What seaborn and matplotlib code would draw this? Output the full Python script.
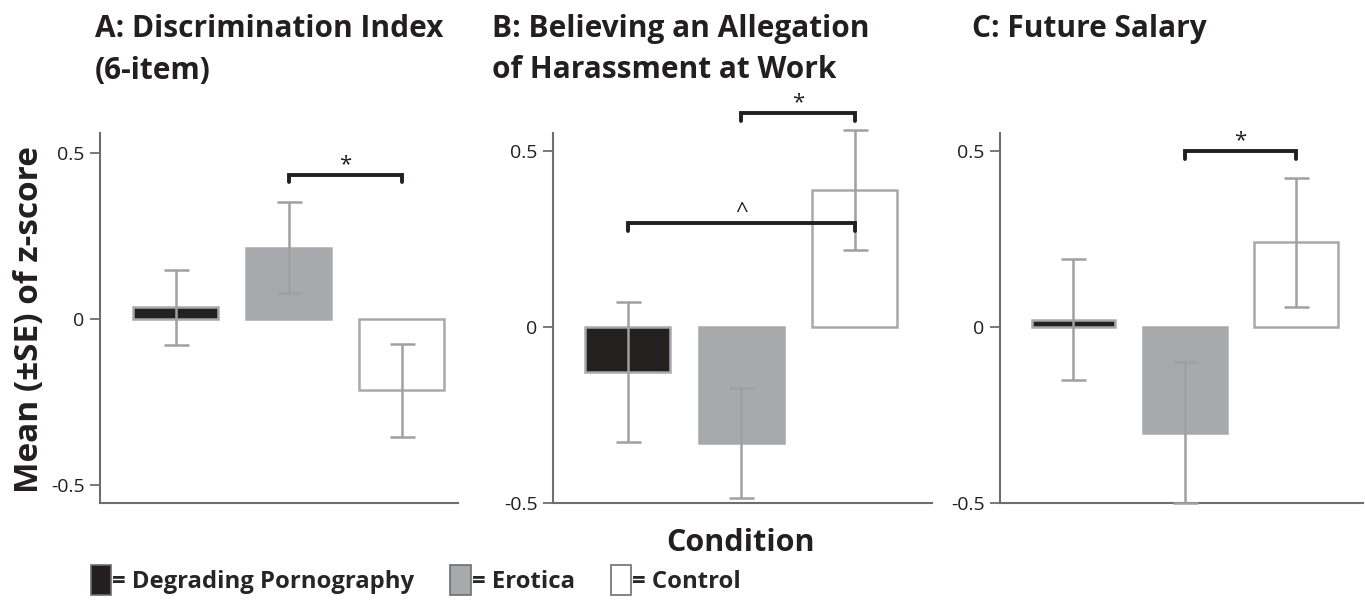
import matplotlib
matplotlib.use('Agg')
import matplotlib.pyplot as plt
from matplotlib.patches import Patch
import pandas as pd
import seaborn as sns

# Condition labels and bar styling
conditions = ['Degrading Pornography', 'Erotica', 'Control']
bar_fill = {'Degrading Pornography': '#231f20', 'Erotica': '#a7a9ac', 'Control': '#ffffff'}
bar_edge = ['#a7a9ac', '#a7a9ac', '#a7a9ac']

# Panel titles
titles = ['A: Discrimination Index\n(6-item)',
          'B: Believing an Allegation\nof Harassment at Work',
          'C: Future Salary']

# Means and standard errors
means_a = [0.035, 0.215, -0.215]
se_a = [0.113, 0.137, 0.139]
means_b = [-0.128, -0.33, 0.39]
se_b = [0.199, 0.157, 0.17]
means_c = [0.02, -0.30, 0.24]
se_c = [0.172, 0.20, 0.182]

# Significance brackets: (left bar, right bar, height, label)
sig_a = [(1, 2, 0.434, '*')]
sig_b = [(0, 2, 0.295, '^'), (1, 2, 0.608, '*')]
sig_c = [(1, 2, 0.50, '*')]

sns.set_style('ticks')
plt.rcParams['font.family'] = ['Open Sans', 'DejaVu Sans']

fig = plt.figure(figsize=(13.65, 6), dpi=100)

axes_boxes = [
    [100 / 1365, 1 - 503 / 600, 358 / 1365, 370 / 600],
    [553 / 1365, 1 - 503 / 600, 379 / 1365, 370 / 600],
    [1000 / 1365, 1 - 503 / 600, 363 / 1365, 370 / 600],
]
ylims = [(-0.554, 0.56), (-0.5, 0.551), (-0.5, 0.551)]
xlims = [(-0.67, 2.5), (-0.66, 2.68), (-0.66, 2.6)]
title_x = [95, 492, 972]

panels = [(means_a, se_a, sig_a), (means_b, se_b, sig_b), (means_c, se_c, sig_c)]
spine_color = '#6d6e71'

for i, (means, ses, sigs) in enumerate(panels):
    ax = fig.add_axes(axes_boxes[i])
    df = pd.DataFrame({'condition': conditions, 'mean': means, 'se': ses})
    sns.barplot(data=df, x='condition', y='mean', hue='condition',
                order=conditions, hue_order=conditions, palette=bar_fill,
                width=0.75, errorbar=None, legend=False, ax=ax)
    for patch, ec in zip(ax.patches, bar_edge):
        patch.set_edgecolor(ec)
        patch.set_linewidth(1.8)
    ax.errorbar(x=range(len(conditions)), y=df['mean'], yerr=df['se'],
                fmt='none', ecolor='#a0a0a0', elinewidth=1.8, capsize=9,
                capthick=1.8, clip_on=False, zorder=3)

    for x1, x2, y, label in sigs:
        leg = 0.022
        ax.plot([x1, x1, x2, x2], [y - leg, y, y, y - leg], color='#231f20',
                lw=2.8, clip_on=False, solid_joinstyle='miter', zorder=4)
        ax.annotate(label, xy=((x1 + x2) / 2, y), xytext=(0, 0),
                    textcoords='offset points', ha='center', va='bottom',
                    fontsize=16, color='#231f20', annotation_clip=False)

    ax.set_ylim(*ylims[i])
    ax.set_xlim(*xlims[i])
    ax.set_yticks([-0.5, 0, 0.5])
    ax.set_yticklabels(['-0.5', '0', '0.5'])
    ax.set_xticks([])
    ax.set_xlabel('')
    ax.set_ylabel('')
    ax.tick_params(axis='y', labelsize=14, length=7, width=1.3,
                   color=spine_color, labelcolor='#231f20', pad=4)
    sns.despine(ax=ax)
    for side in ['left', 'bottom']:
        ax.spines[side].set_color(spine_color)
        ax.spines[side].set_linewidth(1.5)

    fig.text(title_x[i] / 1365, 1 - 14 / 600, titles[i], ha='left', va='top',
             fontsize=21.5, fontweight='bold', color='#231f20', linespacing=1.5)

fig.text(30 / 1365, 1 - 320 / 600, 'Mean (±SE) of z-score', rotation=90,
         ha='center', va='center', fontsize=24, fontweight='bold', color='#231f20')
fig.text(740 / 1365, 1 - 543 / 600, 'Condition', ha='center', va='center',
         fontsize=22, fontweight='bold', color='#231f20')

handles = [Patch(facecolor=bar_fill[c], edgecolor='#6d6e71', linewidth=1.2) for c in conditions]
labels = ['= ' + c for c in conditions]
fig.legend(handles, labels, loc='center left', bbox_to_anchor=(91 / 1365, 1 - 580 / 600),
           ncol=3, frameon=False, handlelength=0.85, handleheight=1.5,
           handletextpad=0.05, columnspacing=1.5, borderaxespad=0, borderpad=0,
           prop={'size': 17.2, 'weight': 'bold'})

fig.savefig('out.png', dpi=100)
